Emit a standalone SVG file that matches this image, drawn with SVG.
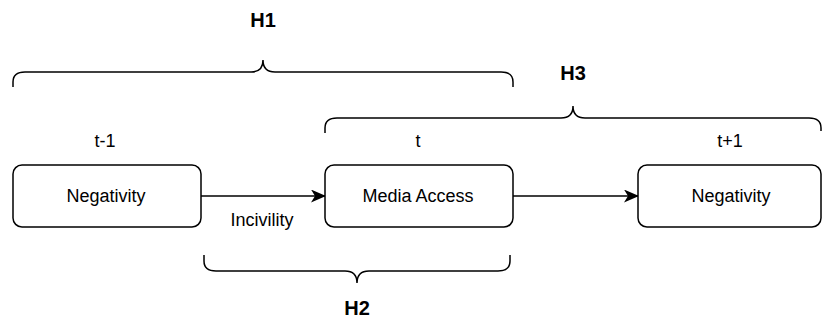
<svg xmlns="http://www.w3.org/2000/svg" width="822" height="324" viewBox="0 0 822 324">
  <defs>
    <style>
      .box { fill: #ffffff; stroke: #000000; stroke-width: 1.5; }
      .edge { fill: none; stroke: #000000; stroke-width: 1.6; }
      .brace { fill: none; stroke: #000000; stroke-width: 1.5; }
      .lbl { font-family: "Liberation Sans", Arial, sans-serif; font-size: 18px; fill: #000000; text-anchor: middle; }
      .hyp { font-family: "Liberation Sans", Arial, sans-serif; font-size: 20px; font-weight: bold; fill: #000000; text-anchor: middle; }
    </style>
    <marker id="arrow" viewBox="0 0 15 13" refX="14" refY="6.5" markerWidth="15" markerHeight="13" markerUnits="userSpaceOnUse" orient="auto">
      <path d="M0,0 L15,6.5 L0,13 L4,6.5 Z" fill="#000000"/>
    </marker>
  </defs>
  <rect width="822" height="324" fill="#ffffff"/>

  <!-- hypothesis braces -->
  <g id="braces">
    <path class="brace" d="M13,87 L13,82 Q13,72 25,72 L251,72 Q263,72 263,60 Q263,72 275,72 L501,72 Q513,72 513,82 L513,87"/>
    <path class="brace" d="M325,133 L325,128 Q325,118 337,118 L561,118 Q573,118 573,106 Q573,118 585,118 L809,118 Q821,118 821,128 L821,131"/>
    <path class="brace" d="M204,255 L204,261 Q204,271 216,271 L345,271 Q357,271 357,283 Q357,271 369,271 L498,271 Q510,271 510,261 L510,255"/>
  </g>
  <g id="hypothesis-labels">
    <text class="hyp" x="263" y="27">H1</text>
    <text class="hyp" x="573" y="80">H3</text>
    <text class="hyp" x="357" y="315">H2</text>
  </g>

  <!-- time labels -->
  <g id="time-labels">
    <text class="lbl" x="105" y="147">t-1</text>
    <text class="lbl" x="418" y="147">t</text>
    <text class="lbl" x="730" y="147">t+1</text>
  </g>

  <!-- connectors -->
  <g id="connectors">
    <path class="edge" d="M201,196 L325,196" marker-end="url(#arrow)"/>
    <text class="lbl" x="262" y="226">Incivility</text>
    <path class="edge" d="M513,196 L638,196" marker-end="url(#arrow)"/>
  </g>

  <!-- nodes -->
  <g id="node-negativity-before">
    <rect class="box" x="13" y="165" width="188" height="62" rx="9" ry="9"/>
    <text class="lbl" x="106" y="202">Negativity</text>
  </g>
  <g id="node-media-access">
    <rect class="box" x="325" y="165" width="188" height="62" rx="9" ry="9"/>
    <text class="lbl" x="418" y="202">Media Access</text>
  </g>
  <g id="node-negativity-after">
    <rect class="box" x="638" y="165" width="183" height="62" rx="9" ry="9"/>
    <text class="lbl" x="731" y="202">Negativity</text>
  </g>
</svg>
